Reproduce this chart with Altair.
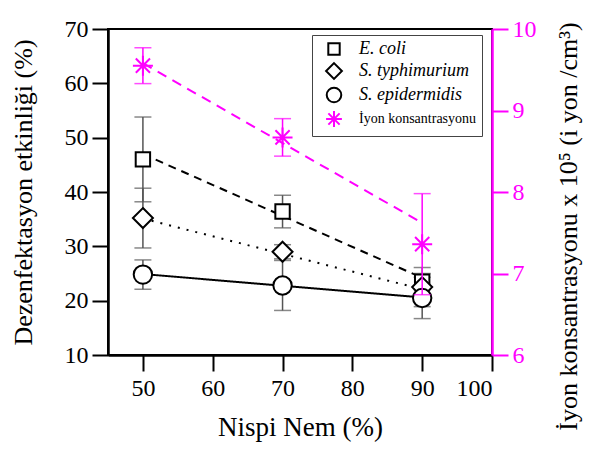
import altair as alt
import pandas as pd

# ---------------- data ----------------
humidity = [50, 70, 90]
series_names = ["E. coli", "S. typhimurium", "S. epidermidis", "İyon konsantrasyonu"]

ecoli = [46.0, 36.4, 23.5]
ecoli_err = [7.8, 3.0, 1.5]
styph = [35.2, 29.0, 22.5]
styph_err = [5.5, 1.3, 3.6]
sepi = [24.8, 22.8, 20.5]
sepi_err = [2.7, 4.6, 3.8]
ion = [9.55, 8.67, 7.36]
ion_err = [0.22, 0.23, 0.62]

# trend lines (end points)
fit_x = [50, 90]
ecoli_fit = [47.0, 24.2]
styph_fit = [35.1, 22.1]
sepi_fit = [24.9, 20.6]
ion_fit = [9.58, 7.62]

x_ticks = [50, 60, 70, 80, 90, 100]
left_ticks = [10, 20, 30, 40, 50, 60, 70]
right_ticks = [6, 7, 8, 9, 10]

# ---------------- tables ----------------
bact_rows, cap_rows, fit_rows = [], [], []
for name, vals, errs, fit in [
    (series_names[0], ecoli, ecoli_err, ecoli_fit),
    (series_names[1], styph, styph_err, styph_fit),
    (series_names[2], sepi, sepi_err, sepi_fit),
]:
    for x, v, e in zip(humidity, vals, errs):
        bact_rows.append({"series": name, "x": x, "y": v, "lo": v - e, "hi": v + e})
        cap_rows.append({"series": name, "x": x, "cap": v - e})
        cap_rows.append({"series": name, "x": x, "cap": v + e})
    for x, f in zip(fit_x, fit):
        fit_rows.append({"series": name, "x": x, "y": f})
bact = pd.DataFrame(bact_rows)
bact_caps = pd.DataFrame(cap_rows)
bact_fit = pd.DataFrame(fit_rows)

ion_df = pd.DataFrame({"series": series_names[3], "x": humidity, "y": ion,
                       "lo": [v - e for v, e in zip(ion, ion_err)],
                       "hi": [v + e for v, e in zip(ion, ion_err)]})
ion_caps = pd.DataFrame({"series": series_names[3], "x": humidity + humidity,
                         "cap": [v - e for v, e in zip(ion, ion_err)] + [v + e for v, e in zip(ion, ion_err)]})
ion_fit_df = pd.DataFrame({"x": fit_x, "y": ion_fit})

# ---------------- styling ----------------
FONT = "Liberation Serif"
MAG = "#ff00ff"
GREY = "#555555"
# symbol outlines as paths (unit square [-1,1] scaled by the symbol size)
SQUARE = "M-0.72,-0.72L0.72,-0.72L0.72,0.72L-0.72,0.72Z"
DIAMOND = "M0,-1L1,0L0,1L-1,0Z"
CIRCLE = "M-0.92,0A0.92,0.92,0,1,1,0.92,0A0.92,0.92,0,1,1,-0.92,0Z"
ASTER = "M0,-1L0,1M-1,0L1,0M-0.71,-0.71L0.71,0.71M-0.71,0.71L0.71,-0.71"

x_scale = alt.Scale(domain=[45, 100], nice=False, zero=False)
x_axis = alt.Axis(values=x_ticks, title="Nispi Nem (%)", grid=False, format="d",
                  tickSize=16, tickWidth=2, tickColor="black",
                  domainColor="black", domainWidth=2.5,
                  labelFont=FONT, labelFontSize=24, labelColor="black", labelPadding=5,
                  titleFont=FONT, titleFontSize=27, titleFontWeight="normal",
                  titleColor="black", titlePadding=14)
X = alt.X("x:Q", scale=x_scale, axis=x_axis)

left_scale = alt.Scale(domain=[10, 70], nice=False, zero=False)
left_axis = alt.Axis(values=left_ticks, title="Dezenfektasyon etkinliği  (%)", grid=False,
                     orient="left", format="d", tickSize=16, tickWidth=2, tickColor="black",
                     domainColor="black", domainWidth=2.5,
                     labelFont=FONT, labelFontSize=24, labelColor="black", labelPadding=4,
                     titleFont=FONT, titleFontSize=26, titleFontWeight="normal",
                     titleColor="black", titlePadding=28)

right_scale = alt.Scale(domain=[6, 10], nice=False, zero=False)
right_axis = alt.Axis(values=right_ticks, title="İyon konsantrasyonu x 10⁵ (i yon /cm³)",
                      grid=False, orient="right", format="d", tickSize=16, tickWidth=2,
                      tickColor=MAG, domainColor=MAG, domainWidth=2.5,
                      labelFont=FONT, labelFontSize=24, labelColor=MAG, labelPadding=4,
                      titleFont=FONT, titleFontSize=26, titleFontWeight="normal",
                      titleColor="black", titleAngle=270, titleAlign="center",
                      titleBaseline="middle", titleX=76, titleY=197)

shape_scale = alt.Scale(domain=series_names, range=[SQUARE, DIAMOND, CIRCLE, ASTER])
stroke_scale = alt.Scale(domain=series_names, range=["black", "black", "black", MAG])

legend = alt.Legend(
    title=None, orient="none", legendX=204, legendY=6,
    strokeColor="#444444", fillColor="white", padding=5,
    labelFont=FONT,
    labelFontSize=alt.ExprRef("datum.label == 'İyon konsantrasyonu' ? 14 : 18"),
    labelFontStyle=alt.ExprRef("datum.label == 'İyon konsantrasyonu' ? 'normal' : 'italic'"),
    labelColor="black", labelOffset=16, labelLimit=300,
    symbolSize=250, symbolStrokeWidth=2, symbolFillColor="white", symbolOffset=8,
    rowPadding=0,
)

shape_enc = alt.Shape("series:N", scale=shape_scale, legend=legend)
stroke_enc = alt.Stroke("series:N", scale=stroke_scale, legend=legend)
PT_SIZE = 400

# ---------------- left (bacteria) layer ----------------
YL = alt.Y("y:Q", scale=left_scale, axis=left_axis)

dashes = {series_names[0]: [8, 6], series_names[1]: [2, 7], series_names[2]: [1, 0]}
b_lines = [
    alt.Chart(bact_fit[bact_fit["series"] == name]).mark_line(
        color="black", strokeWidth=2, strokeDash=dash).encode(x=X, y=YL)
    for name, dash in dashes.items()
]
b_err = alt.Chart(bact).mark_rule(color=GREY, strokeWidth=1.5).encode(
    x=X, y=alt.Y("lo:Q", scale=left_scale), y2="hi:Q")
b_caps = alt.Chart(bact_caps).mark_tick(color=GREY, orient="horizontal", size=17,
                                        thickness=1.5).encode(
    x=X, y=alt.Y("cap:Q", scale=left_scale))
b_pts = alt.Chart(bact).mark_point(filled=True, fill="white", fillOpacity=1, opacity=1,
                                   strokeWidth=2, size=PT_SIZE).encode(
    x=X, y=YL, shape=shape_enc, stroke=stroke_enc)

left = alt.layer(*b_lines, b_err, b_caps, b_pts)

# ---------------- right (ion) layer ----------------
YR = alt.Y("y:Q", scale=right_scale, axis=right_axis)
i_line = alt.Chart(ion_fit_df).mark_line(color=MAG, strokeWidth=2, strokeDash=[10, 7]).encode(
    x=X, y=YR)
i_err = alt.Chart(ion_df).mark_rule(color=MAG, strokeWidth=1.5).encode(
    x=X, y=alt.Y("lo:Q", scale=right_scale), y2="hi:Q")
i_caps = alt.Chart(ion_caps).mark_tick(color=MAG, orient="horizontal", size=17,
                                       thickness=1.5).encode(
    x=X, y=alt.Y("cap:Q", scale=right_scale))
i_pts = alt.Chart(ion_df).mark_point(filled=True, fill="white", fillOpacity=1, opacity=1,
                                     strokeWidth=2, size=PT_SIZE).encode(
    x=X, y=YR, shape=shape_enc, stroke=stroke_enc)

right = alt.layer(i_line, i_err, i_caps, i_pts)

chart = (
    alt.layer(left, right)
    .resolve_scale(y="independent")
    .properties(width=384, height=326,
                autosize=alt.AutoSizeParams(type="none"),
                padding={"left": 108, "top": 29, "right": 107, "bottom": 96})
    .configure(background="white", font=FONT)
    .configure_axis(labelFont=FONT, titleFont=FONT)
    .configure_legend(labelFont=FONT)
    .configure_view(stroke="black", strokeWidth=2)
)

chart.save("out.html", embed_options={"renderer": "svg", "actions": False})
